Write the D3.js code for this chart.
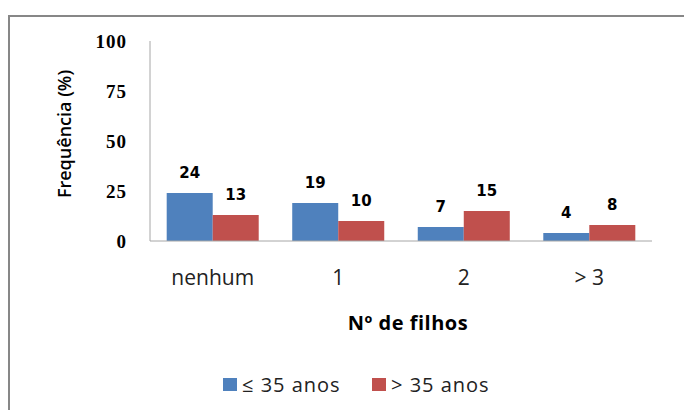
<!doctype html>
<html lang="pt">
<head>
  <meta charset="utf-8">
  <title>Nº de filhos</title>
  <script src="https://d3js.org/d3.v7.min.js"></script>
  <style>
    body { margin: 0; background: #fff; }
    .axis path, .axis line { stroke: #a6a6a6; }
  </style>
</head>
<body>
  <div id="chart"></div>
  <script>
    // data
    var categories = ['nenhum', '1', '2', '> 3'];
    var seriesNames = ['\u2264 35 anos', '> 35 anos'];
    var young = [24, 19, 7, 4];
    var older = [13, 10, 15, 8];
    var yTicks = [0, 25, 50, 75, 100];
    var colors = ['#4f81bd', '#c0504d'];

    var width = 684, height = 410;
    var plot = {left: 150, right: 652, top: 41, bottom: 241};

    var svg = d3.select('#chart').append('svg')
      .attr('width', width)
      .attr('height', height);

    // outer frame
    svg.append('rect')
      .attr('x', 9).attr('y', 16)
      .attr('width', 700).attr('height', 420)
      .attr('fill', 'none')
      .attr('stroke', '#878787')
      .attr('stroke-width', 2);

    var x = d3.scaleBand()
      .domain(categories)
      .range([plot.left, plot.right])
      .paddingInner(0.267)
      .paddingOuter(0.133);

    var sub = d3.scaleBand()
      .domain([0, 1])
      .range([0, x.bandwidth()]);

    var y = d3.scaleLinear()
      .domain([0, 100])
      .range([plot.bottom, plot.top]);

    // y axis line + labels
    var yAxis = svg.append('g')
      .attr('class', 'axis')
      .attr('transform', 'translate(' + plot.left + ',0)')
      .call(d3.axisLeft(y).tickValues(yTicks).tickSize(0).tickPadding(23));
    yAxis.select('.domain').attr('d', 'M0,' + plot.top + 'V' + plot.bottom);
    yAxis.selectAll('text')
      .style('font-family', 'Liberation Serif')
      .style('font-weight', 'bold')
      .style('font-size', '19px')
      .style('letter-spacing', '1px')
      .attr('fill', '#000');

    var series = [young, older];

    series.forEach(function(vals, s) {
      svg.append('g').selectAll('rect')
        .data(vals)
        .enter().append('rect')
        .attr('x', function(d, i) { return x(categories[i]) + sub(s); })
        .attr('y', function(d) { return y(d); })
        .attr('width', sub.bandwidth())
        .attr('height', function(d) { return y(0) - y(d); })
        .attr('fill', colors[s]);

      svg.append('g').selectAll('text')
        .data(vals)
        .enter().append('text')
        .attr('x', function(d, i) { return x(categories[i]) + sub(s) + sub.bandwidth() / 2; })
        .attr('y', function(d) { return y(d) - 15; })
        .attr('text-anchor', 'middle')
        .style('font-family', 'DejaVu Sans')
        .style('font-weight', 'bold')
        .style('font-size', '15px')
        .text(function(d) { return d; });
    });

    // x axis
    var xAxis = svg.append('g')
      .attr('class', 'axis')
      .attr('transform', 'translate(0,' + plot.bottom + ')')
      .call(d3.axisBottom(x).tickSize(0));
    xAxis.select('.domain').attr('d', 'M' + plot.left + ',0H' + plot.right);
    xAxis.selectAll('text')
      .attr('y', 44).attr('dy', 0)
      .style('font-family', 'Open Sans')
      .style('font-size', '21px')
      .attr('fill', '#222');

    // axis titles
    svg.append('text')
      .attr('transform', 'translate(71,134) rotate(-90)')
      .attr('text-anchor', 'middle')
      .style('font-family', 'Open Sans')
      .style('font-weight', '600')
      .style('font-size', '18px')
      .text('Frequência (%)');

    svg.append('text')
      .attr('x', 408).attr('y', 330)
      .attr('text-anchor', 'middle')
      .style('font-family', 'Open Sans')
      .style('font-weight', 'bold')
      .style('font-size', '20px')
      .style('letter-spacing', '0.5px')
      .text('Nº de filhos');

    // legend
    var legendX = [223, 372];
    var legend = svg.append('g').selectAll('g')
      .data(seriesNames)
      .enter().append('g')
      .attr('transform', function(d, i) { return 'translate(' + legendX[i] + ',378)'; });
    legend.append('rect')
      .attr('width', 14).attr('height', 13)
      .attr('fill', function(d, i) { return colors[i]; });
    legend.append('text')
      .attr('x', 19).attr('y', 14)
      .style('font-family', 'Open Sans')
      .style('font-size', '20px')
      .style('letter-spacing', '1px')
      .attr('fill', '#222')
      .text(function(d) { return d; });
  </script>
</body>
</html>
